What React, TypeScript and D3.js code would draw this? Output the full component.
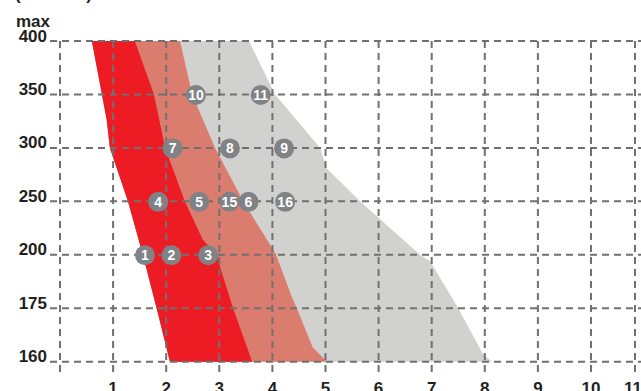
import React from "react";
import * as d3 from "d3";

// ---- data ----
const yLevels = [160, 175, 200, 250, 300, 350, 400];
const yTickLabels = ["160", "175", "200", "250", "300", "350", "400"];
const topLabel = "max";
const unitLabel = "(mbar)";
const xTicks = [1, 2, 3, 4, 5, 6, 7, 8, 9, 10, 11];

// band edges: [x, y]
const redLeft: [number, number][] = [
  [0.6, 400], [0.79, 350], [0.88, 326], [0.94, 300], [1.28, 250], [1.56, 200], [1.82, 175], [2.07, 160],
];
const redRight: [number, number][] = [
  [1.41, 400], [1.77, 350], [1.98, 300], [2.35, 250], [2.69, 214], [2.96, 200], [3.02, 194], [3.26, 175], [3.62, 160],
];
const salmonRight: [number, number][] = [
  [2.26, 400], [2.49, 350], [2.92, 300], [3.45, 250], [3.9, 214], [4.07, 200], [4.37, 180], [4.46, 175], [4.76, 164], [5.03, 160],
];
const grayRight: [number, number][] = [
  [3.56, 400], [4.05, 350], [4.9, 300], [5.02, 281], [5.65, 250], [6.78, 200], [6.97, 197], [7.5, 175], [7.97, 162], [8.14, 160],
];

const bubbleIds = ["1", "2", "3", "4", "5", "15", "6", "16", "7", "8", "9", "10", "11"];
const bubbleX = [1.6, 2.1, 2.79, 1.85, 2.62, 3.19, 3.55, 4.24, 2.12, 3.2, 4.22, 2.56, 3.78];
const bubbleY = [200, 200, 200, 250, 250, 250, 250, 250, 300, 300, 300, 350, 350];

// ---- layout ----
const W = 641;
const H = 391;
const yTop = 41;
const yStep = 53.45;
const x = d3.scaleLinear().domain([0, 10, 11]).range([60, 591, 635]);
const y = d3
  .scaleLinear()
  .domain(yLevels)
  .range(yLevels.map((_, i) => yTop + (yLevels.length - 1 - i) * yStep));

const FONT = "'Liberation Sans', Arial, Helvetica, sans-serif";
const TEXT = "#231f20";
const GRID = "#707072";

const line = d3
  .line<[number, number]>()
  .x((d) => x(d[0]))
  .y((d) => y(d[1]));

function poly(left: [number, number][], right: [number, number][]) {
  return line([...left, ...right.slice().reverse()]) + "Z";
}

export default function App() {
  const yMin = y(160);
  const yMax = y(400);
  return (
    <svg
      width={W}
      height={H}
      style={{ position: "absolute", left: 0, top: 0, background: "#fff" }}
      fontFamily={FONT}
    >
      {/* bands */}
      <path d={poly(redLeft, grayRight)} fill="#d1d2d0" />
      <path d={poly(redLeft, salmonRight)} fill="#da7d6f" />
      <path d={poly(redLeft, redRight)} fill="#ed1c24" />

      {/* grid */}
      <g stroke={GRID} strokeWidth={2} strokeDasharray="7,5" fill="none">
        {yLevels.map((v) => (
          <line key={"h" + v} x1={50} x2={W} y1={y(v)} y2={y(v)} />
        ))}
        {[0, ...xTicks].map((v) => (
          <line key={"v" + v} x1={x(v)} x2={x(v)} y1={yMax} y2={yMin + 11} />
        ))}
      </g>

      {/* y labels */}
      <g fontSize={17} fontWeight="bold" fill={TEXT} textAnchor="end">
        {yLevels.map((v, i) => (
          <text key={"yl" + v} x={47} y={y(v) + 0.5}>
            {yTickLabels[i]}
          </text>
        ))}
        <text x={50} y={27}>
          {topLabel}
        </text>
      </g>
      <text
        x={15}
        y={-0.5}
        fontSize={17}
        fontWeight="bold"
        fill={TEXT}
        textLength={77}
        lengthAdjust="spacing"
      >
        {unitLabel}
      </text>

      {/* x labels */}
      <g fontSize={17} fontWeight="bold" fill={TEXT} textAnchor="middle">
        {xTicks.map((v) => (
          <text key={"xl" + v} x={v === 11 ? x(v) - 2 : x(v)} y={394}>
            {v}
          </text>
        ))}
      </g>

      {/* bubbles */}
      {bubbleIds.map((id, i) => (
        <g key={"b" + id} transform={`translate(${x(bubbleX[i])},${y(bubbleY[i]) + 0.5})`}>
          <circle r={10} fill="#808285" />
          <text
            textAnchor="middle"
            dy="0.36em"
            fontSize={14}
            fontWeight="bold"
            fill="#fff"
          >
            {id}
          </text>
        </g>
      ))}
    </svg>
  );
}
